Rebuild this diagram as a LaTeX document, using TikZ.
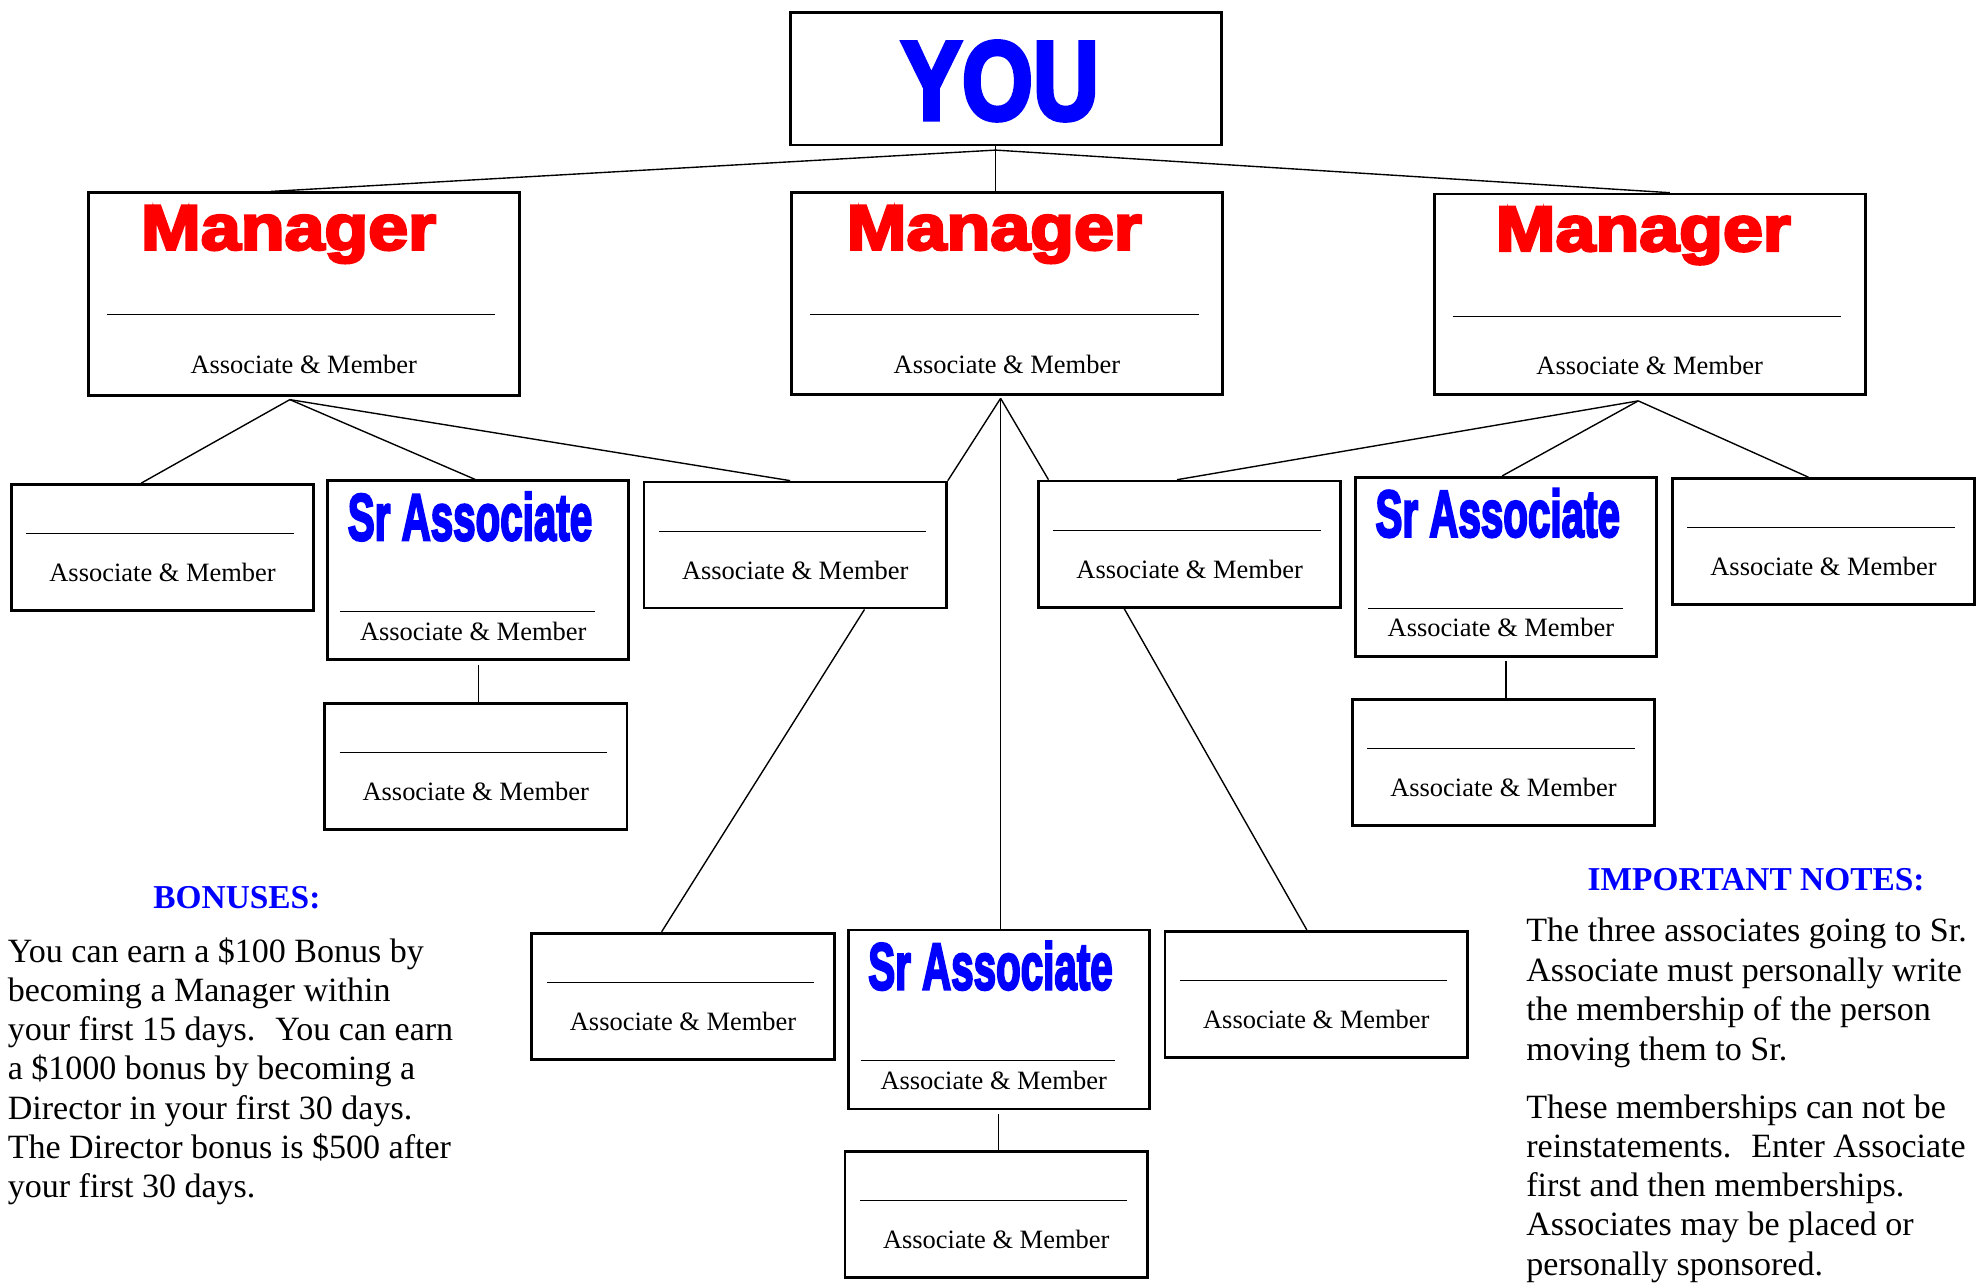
\documentclass[tikz,border=0pt]{standalone}
\usepackage{fontspec}
\setmainfont{Liberation Serif}
\setsansfont{Liberation Sans}
\newfontfamily\heavysans{Liberation Sans}[BoldFeatures={FakeBold=4}]
\definecolor{youblue}{RGB}{0,0,255}
\definecolor{mgrred}{RGB}{255,0,0}
\begin{document}
\begin{tikzpicture}[x=1pt,y=-1pt,
  box/.style={draw,line width=2.2pt,inner sep=0pt},
  ambox/.style={box,minimum width=240pt,minimum height=100pt},
  srbox/.style={box,minimum width=239pt,minimum height=142pt},
  mgrbox/.style={box,minimum width=342pt,minimum height=161pt},
  link/.style={line width=1.1pt},
  rule/.style={line width=0.8pt},
  amtext/.style={inner sep=0pt,font=\fontsize{21}{25}\selectfont},
  note/.style={inner sep=0pt,anchor=base west,font=\fontsize{27}{31}\selectfont},
  head/.style={inner sep=0pt,anchor=base,text=youblue,font=\fontsize{26.5}{31}\selectfont\bfseries},
  title/.style={inner sep=0pt,anchor=north,font=\heavysans\bfseries}]
\useasboundingbox (0,0) rectangle (1568,1018);
\node[box,minimum width=342pt,minimum height=105pt] (you) at (798,62.5) {};
\node[mgrbox] (mgrL) at (241,233.5) {};
\node[mgrbox,minimum height=160pt] (mgrC) at (799,233) {};
\node[mgrbox,minimum height=159pt] (mgrR) at (1309,233.5) {};
\node[ambox] (am1) at (129,434.5) {};
\node[srbox] (sr1) at (379.5,452.5) {};
\node[ambox] (am2) at (631,432.5) {};
\node[ambox] (am3) at (944,431.75) {};
\node[srbox] (sr2) at (1195,449.75) {};
\node[ambox] (am4) at (1447,429.75) {};
\node[ambox] (am5) at (377.5,608) {};
\node[ambox] (am6) at (1193,605) {};
\node[ambox] (am7) at (542,790.5) {};
\node[srbox] (sr3) at (792.5,809) {};
\node[ambox] (am8) at (1044.5,789) {};
\node[ambox] (am9) at (790.5,964) {};
\node[title,text=youblue] (you-t) at ([xshift=-4.5pt,yshift=-23.7pt]you.north) {\resizebox{157pt}{62pt}{YOU}};
\foreach \b/\dx in {mgrL/-12,mgrC/-10,mgrR/-5} {
  \node[title,text=mgrred] (\b-t) at ([xshift=\dx pt,yshift=-11pt]\b.north) {\resizebox{234pt}{35pt}{Manager}};
  \draw[rule] ([xshift=16pt,yshift=-98pt]\b.north west) -- ([xshift=-20pt,yshift=-98pt]\b.north east);
  \node[amtext] (\b-m) at ([yshift=-137pt]\b.north) {Associate \& Member};
}
\foreach \b in {sr1,sr2,sr3} {
  \node[title,text=youblue] (\b-t) at ([xshift=-6.5pt,yshift=-10pt]\b.north) {\resizebox{194pt}{38pt}{Sr Associate}};
  \draw[rule] ([xshift=11pt,yshift=-105pt]\b.north west) -- ([xshift=-28pt,yshift=-105pt]\b.north east);
  \node[amtext] (\b-m) at ([xshift=-4pt,yshift=-120.5pt]\b.north) {Associate \& Member};
}
\foreach \n in {1,...,9} {
  \draw[rule] ([xshift=13pt,yshift=-40pt]am\n.north west) -- ([xshift=-17pt,yshift=-40pt]am\n.north east);
  \node[amtext] (am\n-m) at ([yshift=-71pt]am\n.north) {Associate \& Member};
}
\coordinate (youhub) at ([xshift=-8pt,yshift=-3pt]you.south);
\draw[link] (youhub) -- ([xshift=-26pt]mgrL.north);
\draw[link] (youhub) -- ([xshift=16pt]mgrR.north);
\draw[link] (you.south -| youhub) -- (mgrC.north -| youhub);
\coordinate (hubL) at ([xshift=-11pt,yshift=-2pt]mgrL.south);
\draw[link] (hubL) -- ([xshift=-17pt]am1.north);
\draw[link] (hubL) -- ([xshift=-2.5pt]sr1.north);
\draw[link] (hubL) -- ([xshift=-4pt]am2.north);
\coordinate (hubC) at ([xshift=-5pt,yshift=-2pt]mgrC.south);
\draw[link] (hubC) -- (am2.north east);
\draw[link] (hubC) -- (sr3.north -| hubC);
\draw[link] (hubC) -- ([xshift=-112pt]am3.north);
\coordinate (hubR) at ([xshift=-9pt,yshift=-4pt]mgrR.south);
\draw[link] (hubR) -- ([xshift=-10pt]am3.north);
\draw[link] (hubR) -- ([xshift=-3pt]sr2.north);
\draw[link] (hubR) -- ([xshift=-12pt]am4.north);
\draw[link] ([yshift=-3pt]sr1.south) -- (sr1.south |- am5.north);
\draw[link] ([yshift=-3pt]sr2.south) -- (sr2.south |- am6.north);
\draw[link] ([yshift=-3pt]sr3.south) -- (sr3.south |- am9.north);
\draw[link] ([xshift=55pt]am2.south) -- ([xshift=-17pt]am7.north);
\draw[link] ([xshift=-52pt]am3.south) -- ([xshift=-7.5pt]am8.north);
\node[head] (bonus) at (188,720.8) {BONUSES:};
\foreach \t [count=\i] in {You can earn a \$100 Bonus by,becoming a Manager within,your first 15 days.~ You can earn,a \$1000 bonus by becoming a,Director in your first 30 days.,The Director bonus is \$500 after,your first 30 days.}
  \node[note] (bonus\i) at (6,763.6+31.1*\i-31.1) {\t};
\node[head] (notes) at (1393.5,706.6) {IMPORTANT NOTES:};
\foreach \t [count=\i] in {The three associates going to Sr.,Associate must personally write,the membership of the person,moving them to Sr.}
  \node[note] (noteA\i) at (1211,747.4+31.3*\i-31.3) {\t};
\foreach \t [count=\i] in {These memberships can not be,reinstatements.~ Enter Associate,first and then memberships.,Associates may be placed or,personally sponsored.}
  \node[note] (noteB\i) at (1211,887.4+31.1*\i-31.1) {\t};
\end{tikzpicture}
\end{document}
